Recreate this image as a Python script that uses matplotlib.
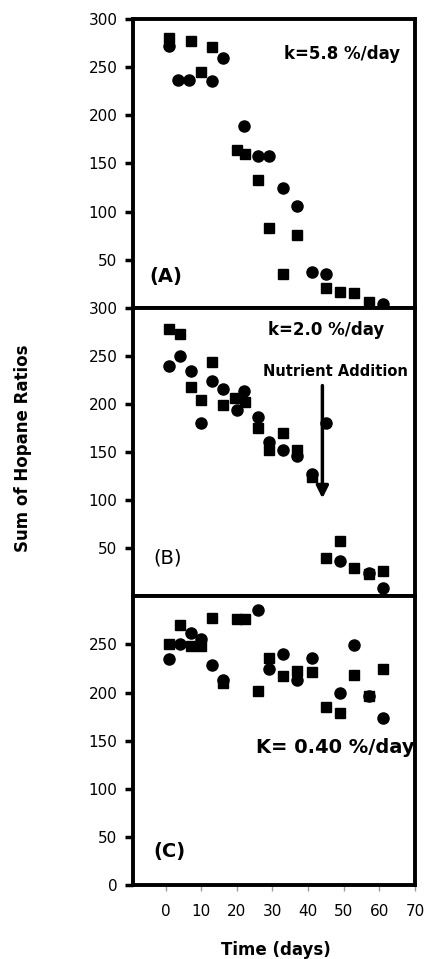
import numpy as np
import matplotlib
matplotlib.use('Agg')
import matplotlib.pyplot as plt

plt.rcParams['font.family'] = ['DejaVu Sans']

# panel A
a_sq_x = [1, 7, 10, 13, 20, 22.3, 26, 29, 33, 37, 45, 49, 53, 57]
a_sq_y = [280, 277, 245, 271, 164, 160, 133, 83, 35, 76, 21, 16, 15, 6]
a_ci_x = [1, 3.5, 6.5, 13, 16, 22, 26, 29, 33, 37, 41, 45, 61]
a_ci_y = [272, 237, 237, 236, 260, 189, 158, 158, 125, 106, 37, 35, 4]

# panel B
b_sq_x = [1, 4, 7, 10, 13, 16, 19.6, 22.4, 26, 29, 33, 37, 41, 45, 49, 53, 57, 61]
b_sq_y = [278, 273, 218, 204, 244, 199, 206, 202, 175, 152, 170, 152, 124, 40, 58, 30, 23, 26]
b_ci_x = [1, 4, 7, 10, 13, 16, 20, 22, 26, 29, 33, 37, 41, 45, 49, 57, 61]
b_ci_y = [239, 250, 234, 180, 224, 216, 194, 214, 186, 160, 152, 146, 127, 180, 37, 24, 9]

# panel C
c_sq_x = [1, 4, 7, 10, 13, 16, 20, 22.4, 26, 29, 33, 37, 41, 45, 49, 53, 57, 61]
c_sq_y = [250, 270, 248, 248, 278, 210, 276, 276, 202, 236, 217, 222, 221, 185, 179, 218, 196, 224]
c_ci_x = [1, 4, 7, 10, 13, 16, 26, 29, 33, 37, 41, 49, 53, 57, 61]
c_ci_y = [235, 250, 262, 256, 229, 213, 286, 225, 240, 213, 236, 200, 249, 196, 174]

x_ticks = [0, 10, 20, 30, 40, 50, 60, 70]

fig = plt.figure(figsize=(4.27, 9.59), dpi=100)
gs = fig.add_gridspec(3, 1, left=0.311, right=0.972, top=0.980, bottom=0.0772, hspace=0)
axes = [fig.add_subplot(gs[i]) for i in range(3)]

data = [(a_sq_x, a_sq_y, a_ci_x, a_ci_y),
        (b_sq_x, b_sq_y, b_ci_x, b_ci_y),
        (c_sq_x, c_sq_y, c_ci_x, c_ci_y)]

for i, ax in enumerate(axes):
    sx, sy, cx, cy = data[i]
    ax.plot(sx, sy, 's', color='black', ms=7.5, mec='black')
    ax.plot(cx, cy, 'o', color='black', ms=8, mec='black')
    ax.set_xlim(-9.2, 69.8)
    ax.set_ylim(0, 300)
    for s in ax.spines.values():
        s.set_linewidth(2.8)
    ax.tick_params(axis='y', direction='out', length=6, width=2.5, labelsize=11, pad=5)
    ax.tick_params(axis='x', direction='out', length=4, width=1, color='#999999',
                   labelsize=11, pad=10)
    ax.set_xticks(x_ticks)
    if i < 2:
        ax.set_yticks([50, 100, 150, 200, 250, 300])
        ax.tick_params(axis='x', bottom=False, labelbottom=False)
    else:
        ax.set_yticks([0, 50, 100, 150, 200, 250])

ax1, ax2, ax3 = axes
ax1.text(49.5, 264, 'k=5.8 %/day', fontsize=12, fontweight='bold', ha='center', va='center')
ax1.text(-4.6, 33, '(A)', fontsize=14, fontweight='bold', ha='left', va='center')

ax2.text(45, 277, 'k=2.0 %/day', fontsize=12, fontweight='bold', ha='center', va='center')
ax2.text(47.8, 234, 'Nutrient Addition', fontsize=10.5, fontweight='bold', ha='center',
         va='center', clip_on=True)
ax2.annotate('', xy=(44, 99), xytext=(44, 222),
             arrowprops=dict(arrowstyle='-|>', color='black', lw=2.5, mutation_scale=18))
ax2.text(-3.4, 40, '(B)', fontsize=14, ha='left', va='center')

ax3.text(25.4, 143, 'K= 0.40 %/day', fontsize=14, fontweight='bold', ha='left',
         va='center', clip_on=True)
ax3.text(-3.4, 35, '(C)', fontsize=14, fontweight='bold', ha='left', va='center')

fig.text(0.054, 0.533, 'Sum of Hopane Ratios', rotation=90, fontsize=12,
         fontweight='bold', ha='center', va='center')
fig.text(0.646, 0.009, 'Time (days)', fontsize=12, fontweight='bold', ha='center',
         va='center')

fig.savefig('out.png', dpi=100)
